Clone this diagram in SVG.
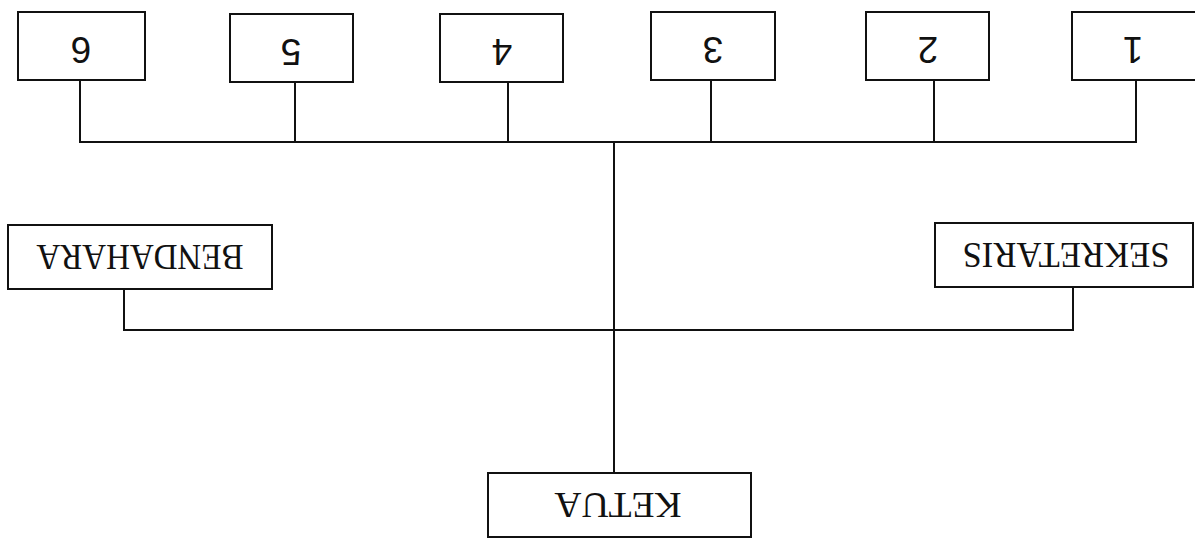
<svg xmlns="http://www.w3.org/2000/svg" width="1195" height="539" viewBox="0 0 1195 539">
<style>
.box{fill:#fff;stroke:#111;stroke-width:2}
.num{font-family:"Liberation Sans",Arial,sans-serif;font-size:37px;fill:#111;text-anchor:middle}
.lbl{font-family:"Liberation Serif","Times New Roman",serif;font-size:35px;fill:#111;text-anchor:middle}
.con{fill:none;stroke:#111;stroke-width:2}
</style>
<rect width="1195" height="539" fill="#fff"/>
<g id="connectors">
<path class="con" d="M80 80V142H1136V80M295 82V142M508 82V142M711 80V142M934 80V142"/>
<path class="con" d="M614 142V473"/>
<path class="con" d="M124 289V330H1073V287"/>
</g>
<g id="n6"><rect class="box" x="18" y="12" width="127" height="68"/><text class="num" x="81" y="63" transform="rotate(180 81 50)">6</text></g>
<g id="n5"><rect class="box" x="230" y="14" width="123" height="68"/><text class="num" x="291" y="65" transform="rotate(180 291 52)">5</text></g>
<g id="n4"><rect class="box" x="440" y="14" width="123" height="68"/><text class="num" x="502" y="65" transform="rotate(180 502 52)">4</text></g>
<g id="n3"><rect class="box" x="651" y="12" width="124" height="68"/><text class="num" x="713" y="63" transform="rotate(180 713 50)">3</text></g>
<g id="n2"><rect class="box" x="866" y="12" width="123" height="68"/><text class="num" x="928" y="63" transform="rotate(180 928 50)">2</text></g>
<g id="n1"><rect class="box" x="1072" y="12" width="130" height="68"/><text class="num" x="1133" y="63" transform="rotate(180 1133 50)">1</text></g>
<g id="bendahara"><rect class="box" x="8" y="225" width="264" height="64"/><text class="lbl" x="140" y="269" textLength="207" lengthAdjust="spacingAndGlyphs" transform="rotate(180 140 257)">BENDAHARA</text></g>
<g id="sekretaris"><rect class="box" x="935" y="223" width="258" height="64"/><text class="lbl" x="1066" y="267" textLength="207" lengthAdjust="spacingAndGlyphs" transform="rotate(180 1066 255)">SEKRETARIS</text></g>
<g id="ketua"><rect class="box" x="488" y="473" width="263" height="64"/><text class="lbl" x="618" y="517" textLength="127" lengthAdjust="spacingAndGlyphs" transform="rotate(180 618 505)">KETUA</text></g>
</svg>
